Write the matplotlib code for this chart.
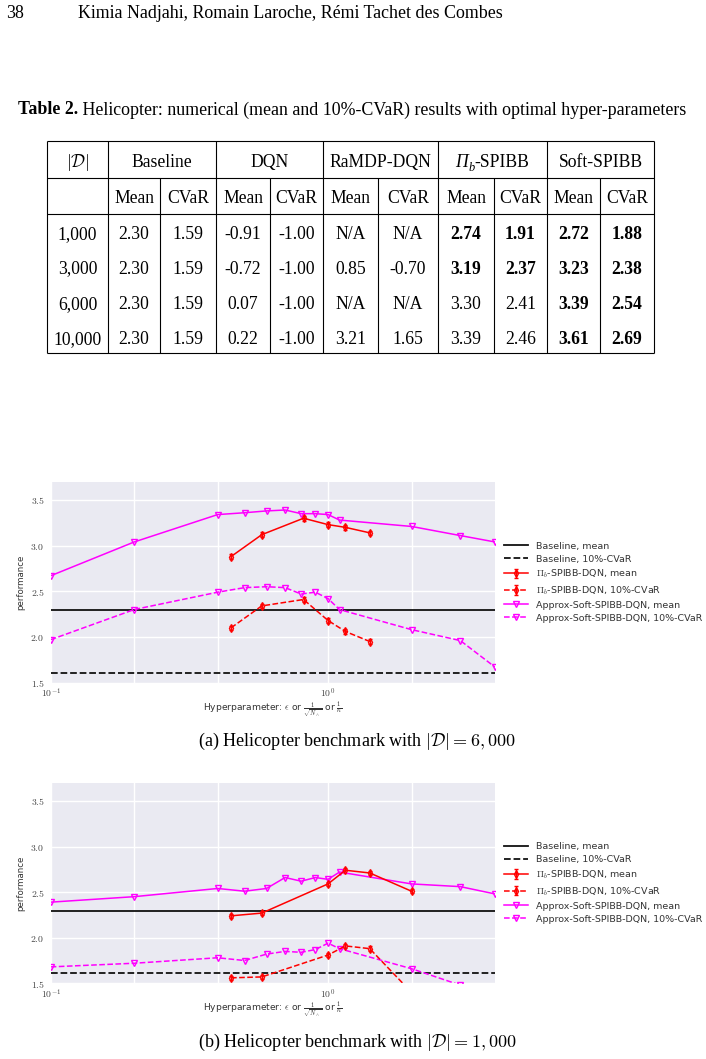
import matplotlib
matplotlib.use('Agg')
import matplotlib.pyplot as plt

plt.rcParams['mathtext.fontset'] = 'cm'
plt.rcParams['font.family'] = ['DejaVu Sans']

# ---------------- data ----------------
eps_soft = [0.1, 0.2, 0.4, 0.5, 0.6, 0.7, 0.8, 0.9, 1.0, 1.1, 2.0, 3.0, 4.0]
x_pib_6000 = [0.447, 0.577, 0.816, 1.0, 1.155, 1.414]
x_pib_1000 = [0.447, 0.577, 1.0, 1.155, 1.414, 2.0]

soft_mean_6000 = [2.67, 3.04, 3.34, 3.36, 3.38, 3.39, 3.35, 3.35, 3.34, 3.28, 3.21, 3.11, 3.04]
soft_cvar_6000 = [1.97, 2.30, 2.49, 2.54, 2.55, 2.54, 2.47, 2.49, 2.42, 2.30, 2.08, 1.96, 1.67]
pib_mean_6000 = [2.88, 3.12, 3.30, 3.23, 3.20, 3.14]
pib_cvar_6000 = [2.10, 2.34, 2.41, 2.18, 2.06, 1.95]

soft_mean_1000 = [2.39, 2.45, 2.54, 2.51, 2.54, 2.66, 2.62, 2.66, 2.64, 2.72, 2.59, 2.56, 2.48]
soft_cvar_1000 = [1.68, 1.72, 1.78, 1.75, 1.82, 1.85, 1.84, 1.87, 1.94, 1.88, 1.66, 1.48, 1.30]
pib_mean_1000 = [2.24, 2.27, 2.59, 2.74, 2.71, 2.51]
pib_cvar_1000 = [1.56, 1.57, 1.81, 1.91, 1.88, 1.40]

pib_err = [0.025, 0.025, 0.025, 0.025, 0.025, 0.025]

baseline_mean = 2.29
baseline_cvar = 1.61

y_ticks = [1.5, 2.0, 2.5, 3.0, 3.5]
x_major = [0.1, 1.0]
x_major_labels = [r'$10^{-1}$', r'$10^{0}$']
x_minor = [0.2, 0.4, 2.0]

legend_labels = ['Baseline, mean', 'Baseline, 10%-CVaR', r'$\Pi_b$-SPIBB-DQN, mean',
                 r'$\Pi_b$-SPIBB-DQN, 10%-CVaR', 'Approx-Soft-SPIBB-DQN, mean',
                 'Approx-Soft-SPIBB-DQN, 10%-CVaR']

# table data
table_groups = ['Baseline', 'DQN', 'RaMDP-DQN', 'PIB', 'Soft-SPIBB']
table_sub = ['Mean', 'CVaR']
table_sizes = ['1,000', '3,000', '6,000', '10,000']
row_1000 = ['2.30', '1.59', '-0.91', '-1.00', 'N/A', 'N/A', '2.74', '1.91', '2.72', '1.88']
row_3000 = ['2.30', '1.59', '-0.72', '-1.00', '0.85', '-0.70', '3.19', '2.37', '3.23', '2.38']
row_6000 = ['2.30', '1.59', '0.07', '-1.00', 'N/A', 'N/A', '3.30', '2.41', '3.39', '2.54']
row_10000 = ['2.30', '1.59', '0.22', '-1.00', '3.21', '1.65', '3.39', '2.46', '3.61', '2.69']
bold_1000 = [0, 0, 0, 0, 0, 0, 1, 1, 1, 1]
bold_3000 = [0, 0, 0, 0, 0, 0, 1, 1, 1, 1]
bold_6000 = [0, 0, 0, 0, 0, 0, 0, 0, 1, 1]
bold_10000 = [0, 0, 0, 0, 0, 0, 0, 0, 1, 1]

# ---------------- figure ----------------
W, H = 706, 1059
fig = plt.figure(figsize=(W / 100, H / 100), dpi=100)
bg = fig.add_axes([0, 0, 1, 1])
bg.set_xlim(0, W)
bg.set_ylim(H, 0)
bg.axis('off')
renderer = fig.canvas.get_renderer()

SERIF = 'Liberation Serif'


def width_of(t):
    return t.get_window_extent(renderer=renderer).width


def fit_size(s, target, **kw):
    t = bg.text(0, 0, s, fontsize=10, **kw)
    w = width_of(t)
    t.remove()
    return 10 * target / w


# header line
hsize = fit_size('Kimia Nadjahi, Romain Laroche, Rémi Tachet des Combes', 425, family=SERIF)
bg.text(6, 18, '38', family=SERIF, fontsize=hsize, va='baseline')
bg.text(78, 18, 'Kimia Nadjahi, Romain Laroche, Rémi Tachet des Combes', family=SERIF,
        fontsize=hsize, va='baseline')

# table title
t1 = bg.text(18, 114.5, 'Table 2.', family=SERIF, fontweight='bold', fontsize=10, va='baseline')
t2 = bg.text(0, 114.5, ' Helicopter: numerical (mean and 10%-CVaR) results with optimal hyper-parameters',
             family=SERIF, fontsize=10, va='baseline')
w1, w2 = width_of(t1), width_of(t2)
sc = 669 / (w1 + w2)
t1.set_fontsize(10 * sc)
t2.set_fontsize(10 * sc)
t2.set_x(18 + w1 * sc)

# table
tsize = fit_size('Baseline', 60.7, family=SERIF)
col_edges = [47, 108, 160, 216, 270, 323, 378, 438, 494, 547, 600, 654]
row_edges = [141, 178, 214, 353]
lw_t = 0.8
for y in row_edges:
    bg.plot([col_edges[0], col_edges[-1]], [y, y], color='k', lw=lw_t, solid_capstyle='butt')
for i, x in enumerate(col_edges):
    y0 = row_edges[0] if (i % 2 == 1 or i in (0, len(col_edges) - 1)) else row_edges[1]
    bg.plot([x, x], [y0, row_edges[-1]], color='k', lw=lw_t, solid_capstyle='butt')

bg.text((col_edges[0] + col_edges[1]) / 2, 166.7, r'$|\mathcal{D}|$', ha='center', va='baseline',
        family=SERIF, fontsize=tsize)


def pib_header(xc, yb):
    # italic Pi with italic subscript b, followed by "-SPIBB"
    p1 = bg.text(0, yb, 'Π', family=SERIF, style='italic', fontsize=tsize, va='baseline')
    p2 = bg.text(0, yb + 0.22 * tsize * 1.389, 'b', family=SERIF, style='italic',
                 fontsize=tsize * 0.7, va='baseline')
    p3 = bg.text(0, yb, '-SPIBB', family=SERIF, fontsize=tsize, va='baseline')
    a, b, c = width_of(p1), width_of(p2), width_of(p3)
    x0 = xc - (a + b + c) / 2
    p1.set_x(x0)
    p2.set_x(x0 + a)
    p3.set_x(x0 + a + b)


for g, name in enumerate(table_groups):
    xc = (col_edges[1 + 2 * g] + col_edges[3 + 2 * g]) / 2
    if name == 'PIB':
        pib_header(xc, 166.7)
    else:
        bg.text(xc, 166.7, name, ha='center', va='baseline', family=SERIF, fontsize=tsize)
for c in range(10):
    xc = (col_edges[1 + c] + col_edges[2 + c]) / 2
    bg.text(xc, 202.7, table_sub[c % 2], ha='center', va='baseline', family=SERIF, fontsize=tsize)

rows = [row_1000, row_3000, row_6000, row_10000]
bolds = [bold_1000, bold_3000, bold_6000, bold_10000]
baselines = [239, 273.5, 308.7, 343.7]
for r in range(4):
    yb = baselines[r]
    bg.text((col_edges[0] + col_edges[1]) / 2, yb, table_sizes[r], ha='center', va='baseline',
            family=SERIF, fontsize=tsize)
    for c in range(10):
        xc = (col_edges[1 + c] + col_edges[2 + c]) / 2
        bg.text(xc, yb, rows[r][c], ha='center', va='baseline', family=SERIF, fontsize=tsize,
                fontweight='bold' if bolds[r][c] else 'normal')

# captions
csize = fit_size(r'(b) Helicopter benchmark with $|\mathcal{D}| = 1,000$', 320, family=SERIF)
bg.text(357, 746, r'(a) Helicopter benchmark with $|\mathcal{D}| = 6,000$', ha='center',
        va='baseline', family=SERIF, fontsize=csize)
bg.text(357, 1047, r'(b) Helicopter benchmark with $|\mathcal{D}| = 1,000$', ha='center',
        va='baseline', family=SERIF, fontsize=csize)


# ---------------- plots ----------------
def px_axes(left, top, right, bottom):
    return fig.add_axes([left / W, 1 - bottom / H, (right - left) / W, (bottom - top) / H])


RED = '#FF0000'
MAG = '#FF00FF'


def draw_panel(ax, x_pib, pib_mean, pib_cvar, soft_mean, soft_cvar):
    ax.set_facecolor('#EAEAF2')
    for sp in ax.spines.values():
        sp.set_visible(False)
    ax.set_xscale('log')
    ax.set_axisbelow(True)
    ax.axhline(baseline_mean, color='#111111', lw=1.3, label=legend_labels[0])
    ax.axhline(baseline_cvar, color='#111111', lw=1.3, ls='--', label=legend_labels[1])
    ax.errorbar(x_pib, pib_mean, yerr=pib_err, color=RED, marker='d', mfc='none', ms=4.0,
                mew=1.0, lw=1.1, elinewidth=1.0, capsize=1.3, label=legend_labels[2])
    ax.errorbar(x_pib, pib_cvar, yerr=pib_err, color=RED, marker='d', mfc='none', ms=4.0,
                mew=1.0, lw=1.1, ls='--', elinewidth=1.0, capsize=1.3, label=legend_labels[3])
    ax.plot(eps_soft, soft_mean, color=MAG, marker='v', mfc='none', ms=5, mew=1.0, lw=1.1,
            label=legend_labels[4])
    ax.plot(eps_soft, soft_cvar, color=MAG, marker='v', mfc='none', ms=5, mew=1.0, lw=1.1,
            ls='--', label=legend_labels[5])
    ax.set_xlim(0.1, 4.0)
    ax.set_ylim(1.5, 3.7)
    ax.set_xticks(x_major)
    ax.set_xticklabels(x_major_labels)
    ax.set_xticks(x_minor, minor=True)
    ax.set_xticklabels([], minor=True)
    ax.set_yticks(y_ticks)
    ax.set_yticklabels([r'$%.1f$' % v for v in y_ticks])
    ax.grid(which='both', color='white', lw=1.0)
    ax.tick_params(which='both', length=0, labelsize=7, labelcolor='#444444')
    ax.tick_params(axis='y', pad=4.5)
    ax.tick_params(axis='x', pad=3.0)
    ax.set_ylabel('performance', fontsize=6.2, color='#333333', labelpad=4)
    ax.set_xlabel(r'Hyperparameter: $\epsilon$ or $\frac{1}{\sqrt{N_\wedge}}$ or $\frac{1}{\kappa}$',
                  fontsize=6.6, color='#333333', labelpad=0)
    handles, labels = ax.get_legend_handles_labels()
    order = [labels.index(l) for l in legend_labels]
    ax.legend([handles[i] for i in order], [labels[i] for i in order],
              loc='center left', bbox_to_anchor=(1.0, 0.5), frameon=False, fontsize=6.8,
              handlelength=2.5, handletextpad=0.85, labelspacing=0.42, borderaxespad=0.55,
              labelcolor='#333333')


ax1 = px_axes(50.7, 481.7, 495, 682.6)
draw_panel(ax1, x_pib_6000, pib_mean_6000, pib_cvar_6000, soft_mean_6000, soft_cvar_6000)
ax2 = px_axes(50.7, 782.7, 495, 983.3)
draw_panel(ax2, x_pib_1000, pib_mean_1000, pib_cvar_1000, soft_mean_1000, soft_cvar_1000)

fig.savefig('out.png', dpi=100, facecolor='white')
